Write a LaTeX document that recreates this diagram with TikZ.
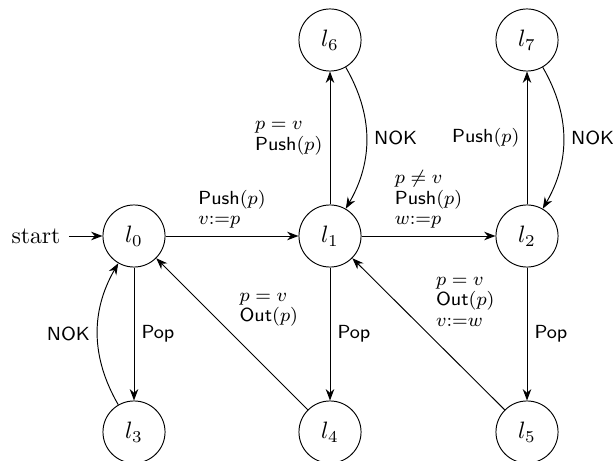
\documentclass[tikz,border=0pt]{standalone}
\usetikzlibrary{arrows.meta}
\begin{document}
\begin{tikzpicture}[x=0.4219pt,y=-0.4219pt,
  >={Stealth},
  stt/.style={circle,draw,thin,minimum size=26.2pt,inner sep=0pt},
  lbl/.style={font=\fontsize{8}{8.7}\selectfont,align=left,inner sep=3pt},
  tr/.style={->,thin}]
\useasboundingbox (0,0) rectangle (613,461);

% states
\node[stt] (l0) at (134,236) {$l_0$};
\node[stt] (l1) at (330,236) {$l_1$};
\node[stt] (l2) at (527,236) {$l_2$};
\node[stt] (l6) at (330,40) {$l_6$};
\node[stt] (l7) at (527,40) {$l_7$};
\node[stt] (l3) at (134,432) {$l_3$};
\node[stt] (l4) at (330,432) {$l_4$};
\node[stt] (l5) at (527,432) {$l_5$};
\node (start) at (36,236) {start};

% transitions
\draw[tr] (start) -- (l0);
\draw[tr] (l0) -- node[lbl,above]{\textsf{Push}$(p)$\\$v{:=}p$} (l1);
\draw[tr] (l1) -- node[lbl,left]{$p=v$\\\textsf{Push}$(p)$} (l6);
\draw[tr] (l6) to[bend left=30] node[lbl,right]{\textsf{NOK}} (l1);
\draw[tr] (l1) -- node[lbl,above]{$p\neq v$\\\textsf{Push}$(p)$\\$w{:=}p$} (l2);
\draw[tr] (l2) -- node[lbl,left]{\textsf{Push}$(p)$} (l7);
\draw[tr] (l7) to[bend left=30] node[lbl,right]{\textsf{NOK}} (l2);
\draw[tr] (l0) -- node[lbl,right]{\textsf{Pop}} (l3);
\draw[tr] (l3) to[bend left=30] node[lbl,left]{\textsf{NOK}} (l0);
\draw[tr] (l1) -- node[lbl,right]{\textsf{Pop}} (l4);
\draw[tr] (l4) -- node[lbl,above right]{$p=v$\\\textsf{Out}$(p)$} (l0);
\draw[tr] (l2) -- node[lbl,right]{\textsf{Pop}} (l5);
\draw[tr] (l5) -- node[lbl,above right]{$p=v$\\\textsf{Out}$(p)$\\$v{:=}w$} (l1);
\end{tikzpicture}
\end{document}
